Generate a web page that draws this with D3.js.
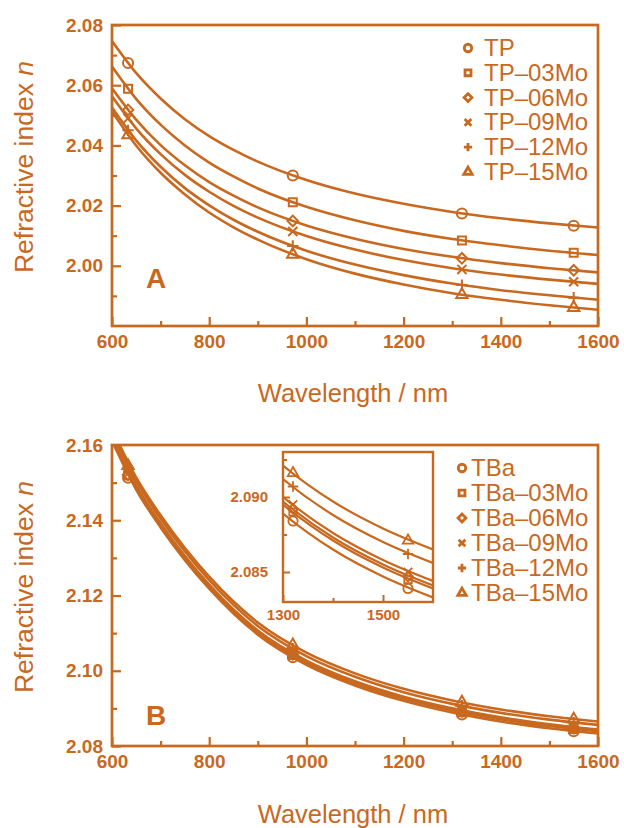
<!DOCTYPE html>
<html>
<head>
<meta charset="utf-8">
<script src="https://cdn.jsdelivr.net/npm/d3@7"></script>
<style>
  body { margin: 0; background: #fff; }
  svg { display: block; }
</style>
</head>
<body>
<svg id="fig" width="624" height="828"></svg>
<script>
// measured wavelengths (nm) and wavelengths where the fitted curves were read
const wavelengths = [633, 972, 1320, 1550];
const fitWavelengths = [600, 650, 700, 750, 800, 850, 900, 1000, 1100, 1200, 1300, 1400, 1500, 1600];

const symbolNames = ["circle", "square", "diamond", "times", "plus", "triangle"];

// panel A
const seriesA = ["TP", "TP\u201303Mo", "TP\u201306Mo", "TP\u201309Mo", "TP\u201312Mo", "TP\u201315Mo"];
const markersA = [
  [2.0674, 2.0300, 2.0174, 2.0133],
  [2.0588, 2.0211, 2.0084, 2.0043],
  [2.0518, 2.0149, 2.0025, 1.9985],
  [2.0490, 2.0114, 1.9988, 1.9947],
  [2.0450, 2.0066, 1.9936, 1.9894],
  [2.0435, 2.0038, 1.9904, 1.9861]
];
const fitA = [
  [2.0747, 2.0640, 2.0556, 2.0487, 2.0431, 2.0385, 2.0346, 2.0285, 2.0240, 2.0206, 2.0179, 2.0158, 2.0141, 2.0127],
  [2.0662, 2.0554, 2.0469, 2.0400, 2.0343, 2.0297, 2.0257, 2.0196, 2.0151, 2.0116, 2.0089, 2.0068, 2.0050, 2.0036],
  [2.0590, 2.0485, 2.0401, 2.0334, 2.0278, 2.0233, 2.0194, 2.0134, 2.0090, 2.0056, 2.0030, 2.0009, 1.9992, 1.9978],
  [2.0563, 2.0456, 2.0371, 2.0302, 2.0246, 2.0199, 2.0160, 2.0099, 2.0054, 2.0019, 1.9992, 1.9971, 1.9954, 1.9940],
  [2.0526, 2.0416, 2.0329, 2.0258, 2.0201, 2.0153, 2.0113, 2.0050, 2.0004, 1.9969, 1.9941, 1.9919, 1.9902, 1.9887],
  [2.0513, 2.0399, 2.0309, 2.0237, 2.0177, 2.0128, 2.0087, 2.0022, 1.9974, 1.9938, 1.9909, 1.9887, 1.9869, 1.9854]
];

// panel B
const seriesB = ["TBa", "TBa\u201303Mo", "TBa\u201306Mo", "TBa\u201309Mo", "TBa\u201312Mo", "TBa\u201315Mo"];
const markersB = [
  [2.1513, 2.1036, 2.0884, 2.0839],
  [2.1519, 2.1042, 2.0890, 2.0845],
  [2.1521, 2.1044, 2.0892, 2.0847],
  [2.1524, 2.1047, 2.0895, 2.0850],
  [2.1536, 2.1059, 2.0907, 2.0862],
  [2.1545, 2.1068, 2.0916, 2.0871]
];
const fitB = [
  [2.1611, 2.1481, 2.1381, 2.1294, 2.1218, 2.1152, 2.1096, 2.1016, 2.0961, 2.0920, 2.0889, 2.0865, 2.0847, 2.0833],
  [2.1617, 2.1487, 2.1387, 2.1300, 2.1224, 2.1158, 2.1102, 2.1022, 2.0967, 2.0926, 2.0895, 2.0871, 2.0853, 2.0839],
  [2.1619, 2.1489, 2.1389, 2.1302, 2.1226, 2.1160, 2.1104, 2.1024, 2.0969, 2.0928, 2.0897, 2.0873, 2.0855, 2.0841],
  [2.1622, 2.1492, 2.1392, 2.1305, 2.1229, 2.1163, 2.1107, 2.1027, 2.0972, 2.0931, 2.0900, 2.0876, 2.0858, 2.0844],
  [2.1634, 2.1504, 2.1404, 2.1317, 2.1241, 2.1175, 2.1119, 2.1039, 2.0984, 2.0943, 2.0912, 2.0888, 2.0870, 2.0856],
  [2.1643, 2.1513, 2.1413, 2.1326, 2.1250, 2.1184, 2.1128, 2.1048, 2.0993, 2.0952, 2.0921, 2.0897, 2.0879, 2.0865]
];

// ticks
const xTicks = [600, 800, 1000, 1200, 1400, 1600];
const xMinor = [700, 900, 1100, 1300, 1500];
const yTicksA = [2.00, 2.02, 2.04, 2.06, 2.08];
const yMinorA = [1.99, 2.01, 2.03, 2.05, 2.07];
const yTicksB = [2.08, 2.10, 2.12, 2.14, 2.16];
const yMinorB = [2.09, 2.11, 2.13, 2.15];
const insetXTicks = [1300, 1500];
const insetXMinor = [1400];
const insetYTicks = [2.085, 2.090];
const insetYMinor = [2.0875, 2.0925];

const C = "#c8691f";
const FONT = '"Liberation Sans", Arial, Helvetica, sans-serif';
const svg = d3.select("#fig");
const defs = svg.append("defs");

const symbolTypes = {
  circle: d3.symbolCircle, square: d3.symbolSquare, diamond: d3.symbolSquare,
  times: d3.symbolTimes, plus: d3.symbolPlus, triangle: d3.symbolTriangle
};
const symbolSizes = { circle: 80, square: 64, diamond: 56, times: 56, plus: 44, triangle: 56 };

function marker(sel, name, scale) {
  sel.attr("d", d3.symbol(symbolTypes[name], symbolSizes[name] * scale)())
     .attr("fill", "none")
     .attr("stroke", C);
}

function panel(cfg) {
  const x = d3.scaleLinear().domain(cfg.xDomain).range([cfg.left, cfg.right]);
  const y = d3.scaleLinear().domain(cfg.yDomain).range([cfg.bottom, cfg.top]);
  const g = svg.append("g");

  g.append("rect")
      .attr("x", cfg.left).attr("y", cfg.top)
      .attr("width", cfg.right - cfg.left).attr("height", cfg.bottom - cfg.top)
      .attr("fill", "#fff");

  defs.append("clipPath").attr("id", cfg.id)
    .append("rect")
      .attr("x", cfg.left).attr("y", cfg.top)
      .attr("width", cfg.right - cfg.left).attr("height", cfg.bottom - cfg.top);

  const line = d3.line()
      .x(d => x(d[0]))
      .y(d => y(d[1]))
      .curve(d3.curveMonotoneX);

  g.append("g")
      .attr("clip-path", `url(#${cfg.id})`)
    .selectAll("path")
    .data(cfg.fits)
    .join("path")
      .attr("d", f => line(fitWavelengths.map((w, i) => [w, f[i]])))
      .attr("fill", "none")
      .attr("stroke", C)
      .attr("stroke-width", cfg.lineWidth);

  cfg.markers.forEach((m, si) => {
    const pts = m.map((v, i) => [wavelengths[i], v])
      .filter(d => d[0] >= cfg.xDomain[0] && d[0] <= cfg.xDomain[1]);
    g.append("g").selectAll("path")
      .data(pts)
      .join("path")
        .call(marker, symbolNames[si], cfg.markerScale)
        .attr("stroke-width", cfg.markerStroke)
        .attr("transform", d => `translate(${x(d[0])},${y(d[1])})` +
              (symbolNames[si] === "diamond" ? " rotate(45)" : ""));
  });

  const styleAxis = a => {
    a.select(".domain").remove();
    a.selectAll("line").attr("stroke", C).attr("stroke-width", cfg.tickWidth);
    a.selectAll("text")
      .attr("fill", C)
      .style("font-family", FONT)
      .style("font-size", cfg.tickFont + "px")
      .style("font-weight", "bold");
  };

  g.append("g")
      .attr("transform", `translate(0,${cfg.bottom})`)
      .call(d3.axisBottom(x).tickValues(cfg.xTicks).tickSizeInner(-cfg.major)
              .tickSizeOuter(0).tickPadding(cfg.xPad).tickFormat(d3.format("d")))
      .call(styleAxis);
  g.append("g")
      .attr("transform", `translate(0,${cfg.bottom})`)
      .call(d3.axisBottom(x).tickValues(cfg.xMinor).tickSizeInner(-cfg.minor)
              .tickSizeOuter(0).tickFormat(""))
      .call(styleAxis);
  g.append("g")
      .attr("transform", `translate(${cfg.left},0)`)
      .call(d3.axisLeft(y).tickValues(cfg.yTicks).tickSizeInner(-cfg.major)
              .tickSizeOuter(0).tickPadding(cfg.yPad).tickFormat(d3.format(cfg.yFormat)))
      .call(styleAxis);
  g.append("g")
      .attr("transform", `translate(${cfg.left},0)`)
      .call(d3.axisLeft(y).tickValues(cfg.yMinor).tickSizeInner(-cfg.minor)
              .tickSizeOuter(0).tickFormat(""))
      .call(styleAxis);

  g.append("rect")
      .attr("x", cfg.left).attr("y", cfg.top)
      .attr("width", cfg.right - cfg.left).attr("height", cfg.bottom - cfg.top)
      .attr("fill", "none")
      .attr("stroke", C)
      .attr("stroke-width", cfg.frameWidth);

  return g;
}

function legend(names, x0, y0, step, textX) {
  const g = svg.append("g");
  names.forEach((name, i) => {
    const yy = y0 + i * step;
    g.append("path")
      .call(marker, symbolNames[i], 0.55)
      .attr("stroke-width", 2.8)
      .attr("transform", `translate(${x0},${yy})` + (symbolNames[i] === "diamond" ? " rotate(45)" : ""));
    g.append("text")
      .attr("x", textX).attr("y", yy + 8)
      .attr("fill", C)
      .style("font-family", FONT)
      .style("font-size", "24px")
      .text(name);
  });
}

function axisTitles(cy, xTitleY) {
  const t = svg.append("text")
      .attr("transform", `translate(33,${cy}) rotate(-90)`)
      .attr("text-anchor", "middle")
      .attr("fill", C)
      .style("font-family", FONT)
      .style("font-size", "26.5px");
  t.append("tspan").text("Refractive index ");
  t.append("tspan").style("font-style", "italic").text("n");

  svg.append("text")
      .attr("x", 353).attr("y", xTitleY)
      .attr("text-anchor", "middle")
      .attr("fill", C)
      .style("font-family", FONT)
      .style("font-size", "25.5px")
      .text("Wavelength / nm");
}

function panelLetter(letter, x, y) {
  svg.append("text")
      .attr("x", x).attr("y", y)
      .attr("text-anchor", "middle")
      .attr("fill", C)
      .style("font-family", FONT)
      .style("font-size", "28px")
      .style("font-weight", "bold")
      .text(letter);
}

const mainStyle = {
  xDomain: [600, 1600], xTicks, xMinor,
  left: 112, right: 598,
  major: 9, minor: 5, xPad: 9, yPad: 9,
  tickFont: 19, tickWidth: 2.2, frameWidth: 2.7,
  lineWidth: 2.6, markerStroke: 2, markerScale: 1,
  yFormat: ".2f"
};

// panel A
panel(Object.assign({}, mainStyle, {
  id: "clipA", top: 25, bottom: 326, yDomain: [1.98, 2.08],
  yTicks: yTicksA, yMinor: yMinorA, fits: fitA, markers: markersA
}));
legend(seriesA, 468, 48, 24.8, 484);
panelLetter("A", 156, 288);
axisTitles(167, 402);

// panel B
panel(Object.assign({}, mainStyle, {
  id: "clipB", top: 445, bottom: 746, yDomain: [2.08, 2.16],
  yTicks: yTicksB, yMinor: yMinorB, fits: fitB, markers: markersB
}));

// inset of panel B
panel({
  id: "clipInset", xDomain: [1300, 1600], yDomain: [2.083, 2.093],
  left: 283, right: 433, top: 452, bottom: 602,
  xTicks: insetXTicks, xMinor: insetXMinor, yTicks: insetYTicks, yMinor: insetYMinor,
  major: 7, minor: 4, xPad: 7, yPad: 15,
  tickFont: 15, tickWidth: 2, frameWidth: 2.4,
  lineWidth: 2.2, markerStroke: 1.8, markerScale: 0.85,
  yFormat: ".3f", fits: fitB, markers: markersB
});
legend(seriesB, 462, 468, 25, 471);
panelLetter("B", 156, 725);
axisTitles(587, 823);
</script>
</body>
</html>
